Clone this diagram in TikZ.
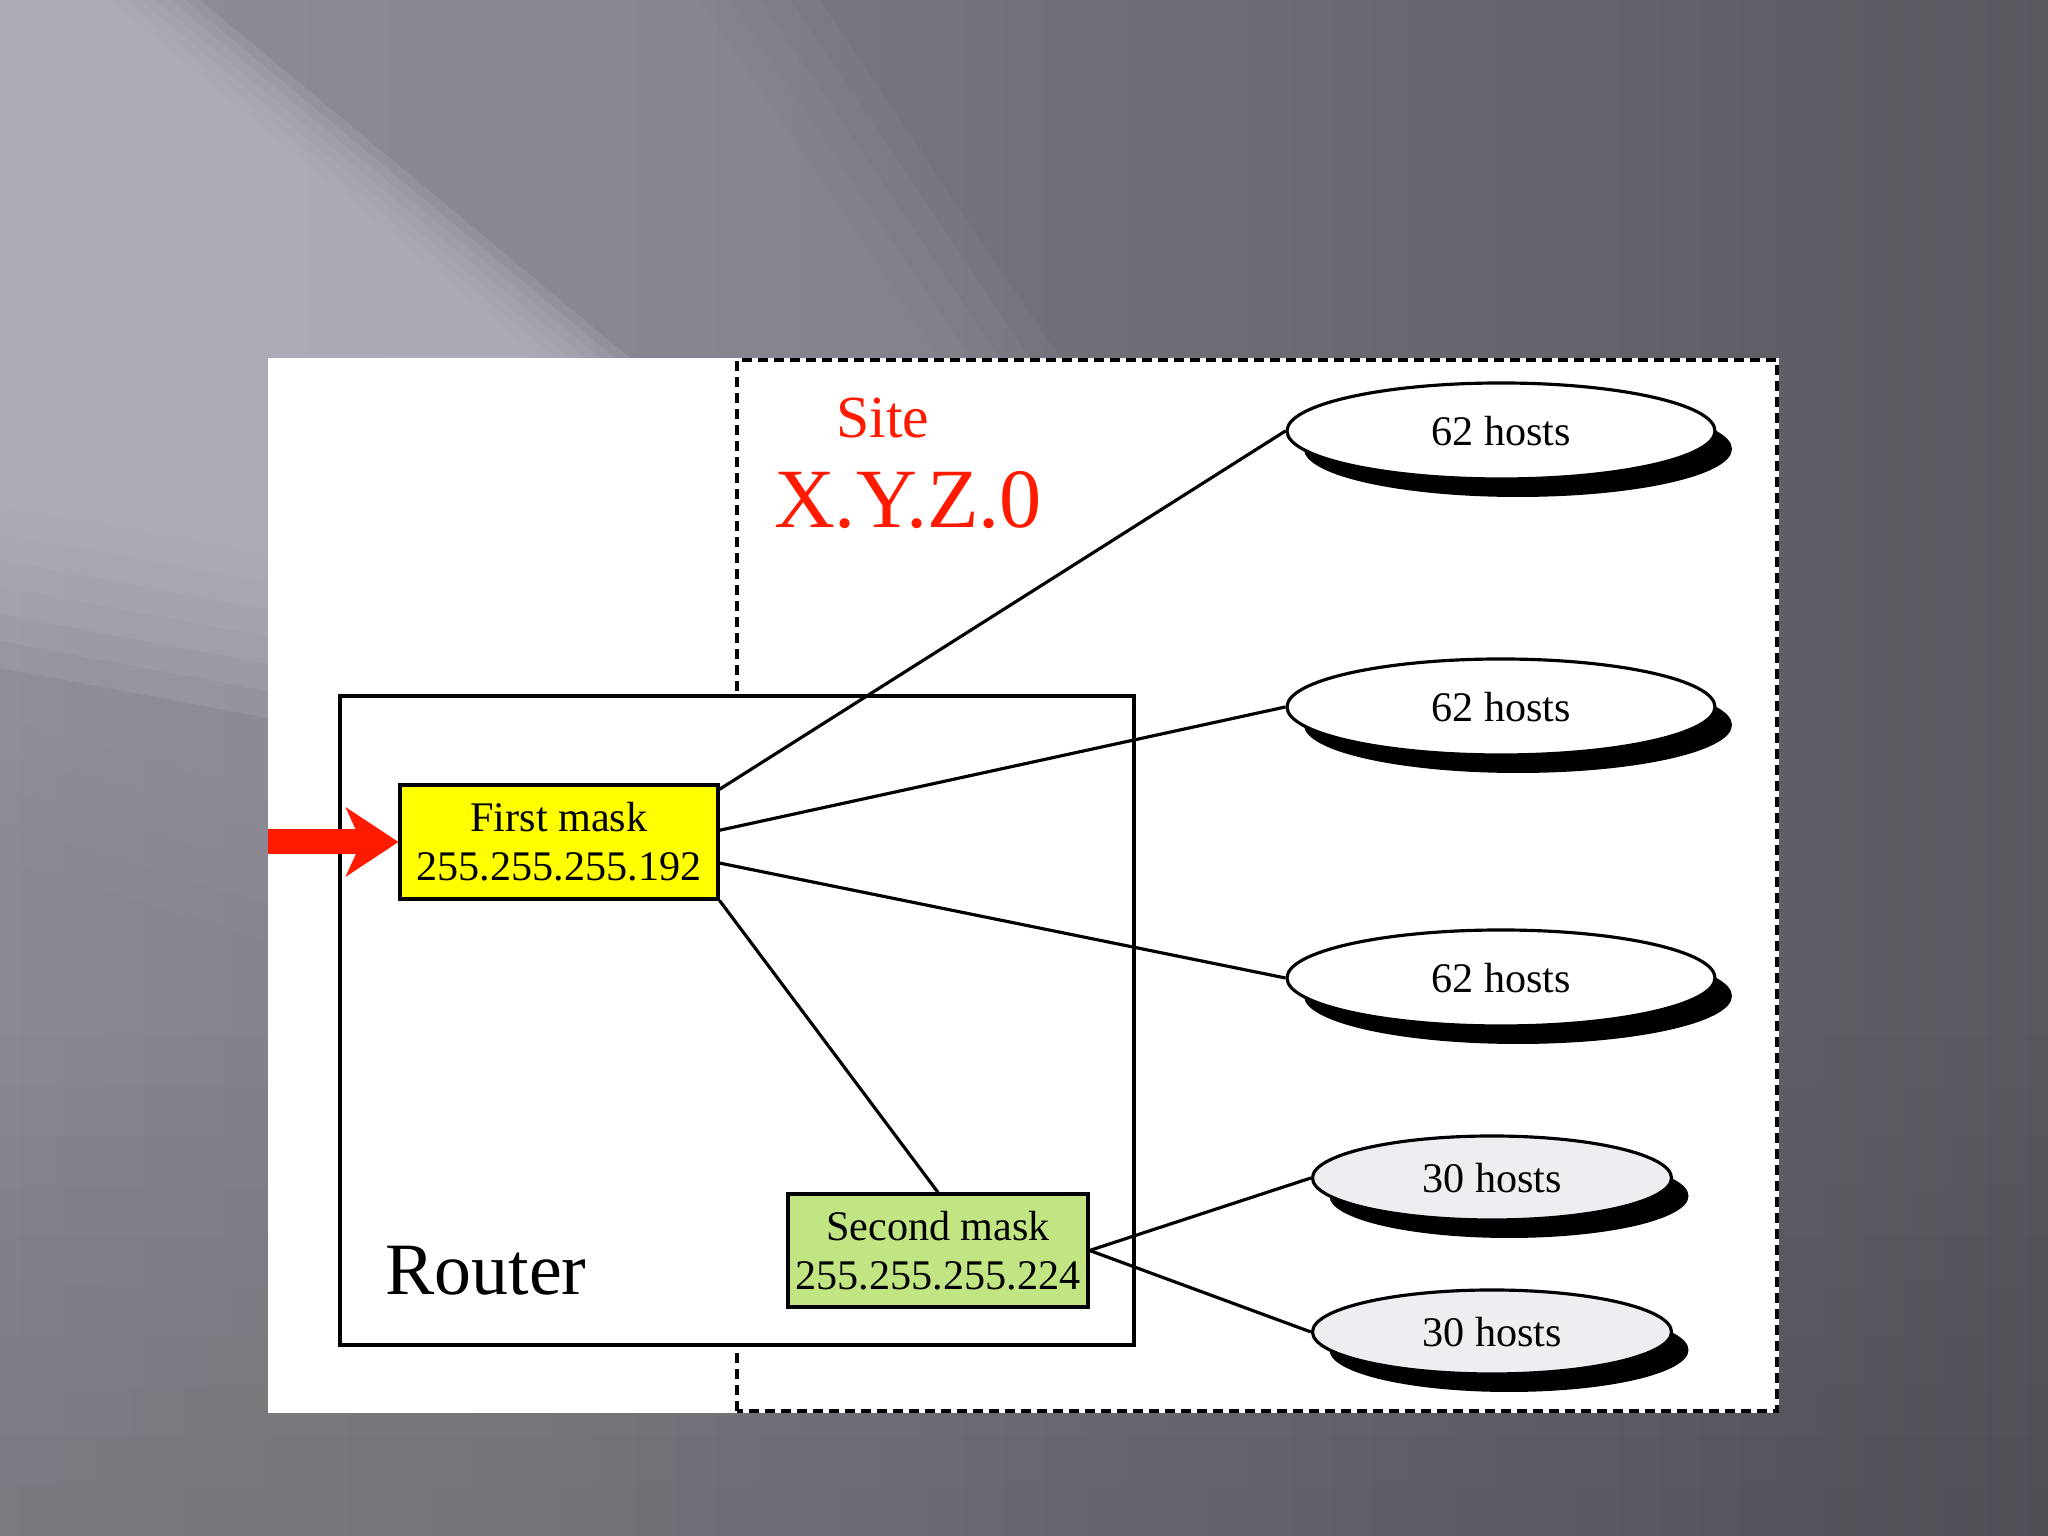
\documentclass[tikz,border=0pt]{standalone}
\usepackage{fontspec}
\setmainfont{Liberation Serif}
\usetikzlibrary{shapes.geometric,shadows,arrows.meta,positioning,calc}
\definecolor{maskyellow}{HTML}{FFFF00}
\definecolor{maskgreen}{HTML}{C2E584}
\definecolor{sitered}{HTML}{FF1A00}
\definecolor{hostgray}{HTML}{EFEDF2}
\definecolor{bglight}{HTML}{B3B1BC}
\definecolor{bgband}{HTML}{9A97A3}
\definecolor{bgmid}{HTML}{8C8995}
\definecolor{bgdark}{HTML}{5A575F}

\begin{document}
\begin{tikzpicture}[
  maskbox/.style={draw, line width=0.9pt, inner sep=1pt, align=center,
    font=\fontsize{12}{14}\selectfont},
  hostnet/.style={ellipse, draw, line width=0.9pt, inner sep=0pt,
    font=\fontsize{12}{14}\selectfont,
    drop shadow={shadow xshift=1.7mm, shadow yshift=-1.8mm, fill=black, opacity=1}},
  link/.style={line width=0.9pt},
]
  \useasboundingbox (0,0) rectangle (20.48,15.36);
  % backdrop
  \shade[left color=bgmid, right color=bgdark] (0,0) rectangle (20.48,15.36);
  \foreach \d in {0,0.3,...,1.5}
    \fill[bgband, opacity=0.12] (0,15.36) -- ({7.0+\d},15.36) -- ({9.4+\d},11.78)
      -- (2.68,{7.4-\d*1.2}) -- (0,{8.2-\d*1.2}) -- cycle;
  \foreach \d in {0,0.15,...,0.9}
    \fill[bglight, opacity=0.24] (0,15.36) -- ({1.1+\d},15.36) -- ({5.4+\d},11.78)
      -- (2.68,{9.8-\d*1.8}) -- (0,{10.3-\d*1.8}) -- cycle;
  \foreach \y in {0.5,1.0,...,5.0}
    \fill[black, opacity=0.006] (0,0) rectangle (20.48,\y);

  % slide panel and site
  \fill[white] (2.68,1.23) rectangle (17.79,11.78);
  \draw[dash pattern=on 1mm off 0.6mm, line width=0.9pt] (7.37,1.25) rectangle (17.77,11.76);
  \draw[line width=0.9pt, fill=white] (3.40,1.91) rectangle (11.34,8.40);

  \node[text=sitered, font=\fontsize{17}{20}\selectfont] (site) at (8.83,11.18) {Site};
  \node[text=sitered, font=\fontsize{24}{28}\selectfont] (net) at (9.08,10.36) {X.Y.Z.0};
  \node[font=\fontsize{21}{25}\selectfont] (rt) at (4.86,2.65) {Router};

  % masks
  \node[maskbox, fill=maskyellow, minimum width=3.18cm, minimum height=1.14cm]
    (fm) at (5.59,6.94) {First mask\\255.255.255.192};
  \node[maskbox, fill=maskgreen, minimum width=3.0cm, minimum height=1.13cm]
    (sm) at (9.38,2.855) {Second mask\\255.255.255.224};

  % subnets
  \node[hostnet, fill=white, minimum width=4.28cm, minimum height=0.96cm] (h1) at (15.01,11.05) {62 hosts};
  \node[hostnet, fill=white, minimum width=4.28cm, minimum height=0.96cm] (h2) at (15.01,8.29) {62 hosts};
  \node[hostnet, fill=white, minimum width=4.28cm, minimum height=0.96cm] (h3) at (15.01,5.58) {62 hosts};
  \node[hostnet, fill=hostgray, minimum width=3.59cm, minimum height=0.84cm] (h4) at (14.92,3.58) {30 hosts};
  \node[hostnet, fill=hostgray, minimum width=3.59cm, minimum height=0.84cm] (h5) at (14.92,2.04) {30 hosts};

  % incoming
  \coordinate (feed) at (2.68,6.94);
  \draw[sitered, line width=2.5mm,
    -{Stealth[length=5.3mm, width=7mm, inset=1.6mm, line width=0pt]}] (feed) -- (fm.west);

  \draw[link] ($(fm.north east)!0.05!(fm.south east)$) -- (h1.west);
  \draw[link] ($(fm.north east)!0.40!(fm.south east)$) -- (h2.west);
  \draw[link] ($(fm.north east)!0.68!(fm.south east)$) -- (h3.west);
  \draw[link] (fm.south east) -- (sm.north);
  \draw[link] (sm.east) -- (h4.west);
  \draw[link] (sm.east) -- (h5.west);
\end{tikzpicture}
\end{document}
